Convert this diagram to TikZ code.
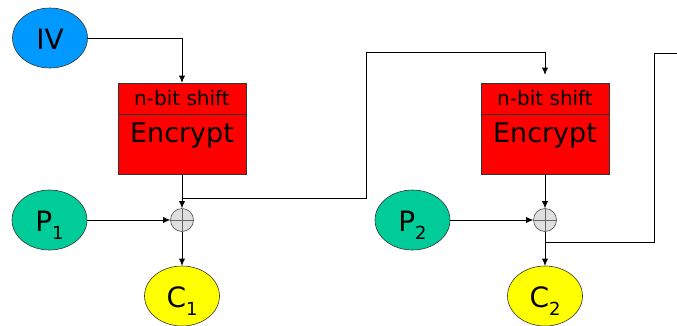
\documentclass[tikz,border=0pt]{standalone}
\usepackage{fontspec}
\setmainfont{DejaVu Sans}
\usetikzlibrary{arrows.meta, positioning, shapes.geometric}

\definecolor{ivblue}{RGB}{0,153,255}
\definecolor{pgreen}{RGB}{0,204,153}
\definecolor{cyellow}{RGB}{255,255,0}

\newcommand{\blocksub}[1]{\raisebox{-8pt}{\fontsize{18}{20}\selectfont #1}}

\begin{document}
\begin{tikzpicture}[x=1pt, y=-1pt, >={Latex[length=7pt,width=6pt]}, node distance=363pt,
   every node/.style={inner sep=0pt}, line width=0.6pt,
   blob/.style={ellipse, draw=black!80, minimum width=75pt, minimum height=60pt,
      text height=22pt, text depth=0pt, font=\fontsize{28}{30}\selectfont},
   shiftbox/.style={rectangle, draw=black!80, fill=red, minimum width=128pt,
      text height=22pt, text depth=9pt, font=\fontsize{20}{22}\selectfont},
   encbox/.style={rectangle, draw=black!80, fill=red, minimum width=128pt,
      text height=28pt, text depth=32pt, font=\fontsize{27}{30}\selectfont},
   xor/.style={circle, draw=black!70, fill=gray!25, minimum size=23pt,
      path picture={\draw[black!60] (path picture bounding box.north) -- (path picture bounding box.south)
         (path picture bounding box.west) -- (path picture bounding box.east);}}]
   \useasboundingbox (0,0) rectangle (677,325);

   % first stage
   \node[blob, fill=ivblue] (iv) at (50,38) {IV};
   \node[shiftbox] (shift1) at (182,98.5) {n-bit shift};
   \node[encbox] (enc1) [below=0pt of shift1] {Encrypt};
   \node[xor] (xor1) at (182,220) {};
   \node[blob, fill=pgreen] (p1) at (49.5,220) {P\blocksub{1}};
   \node[blob, fill=cyellow] (c1) at (182,296) {C\blocksub{1}};

   % second stage
   \node[shiftbox] (shift2) [right of=shift1] {n-bit shift};
   \node[encbox] (enc2) [below=0pt of shift2] {Encrypt};
   \node[xor] (xor2) [right of=xor1] {};
   \node[blob, fill=pgreen] (p2) [right of=p1] {P\blocksub{2}};
   \node[blob, fill=cyellow] (c2) [right of=c1] {C\blocksub{2}};

   % feedback corners
   \coordinate (fb1) at (182,198);
   \coordinate (up1) at (366,52);
   \coordinate (fb2) at (545,242);
   \coordinate (up2) at (654,53);
   \coordinate (out2) at (677,53);

   \draw[->] (iv) -| (shift1);
   \draw[->] (enc1) -- (xor1);
   \draw[->] (p1) -- (xor1);
   \draw[->] (xor1) -- (c1);
   \draw[->, shorten >=8pt] (fb1) -| (up1) -| (shift2.north);

   \draw[->] (enc2) -- (xor2);
   \draw[->] (p2) -- (xor2);
   \draw[->] (xor2) -- (c2);
   \draw (fb2) -| (up2) -- (out2);
\end{tikzpicture}
\end{document}
